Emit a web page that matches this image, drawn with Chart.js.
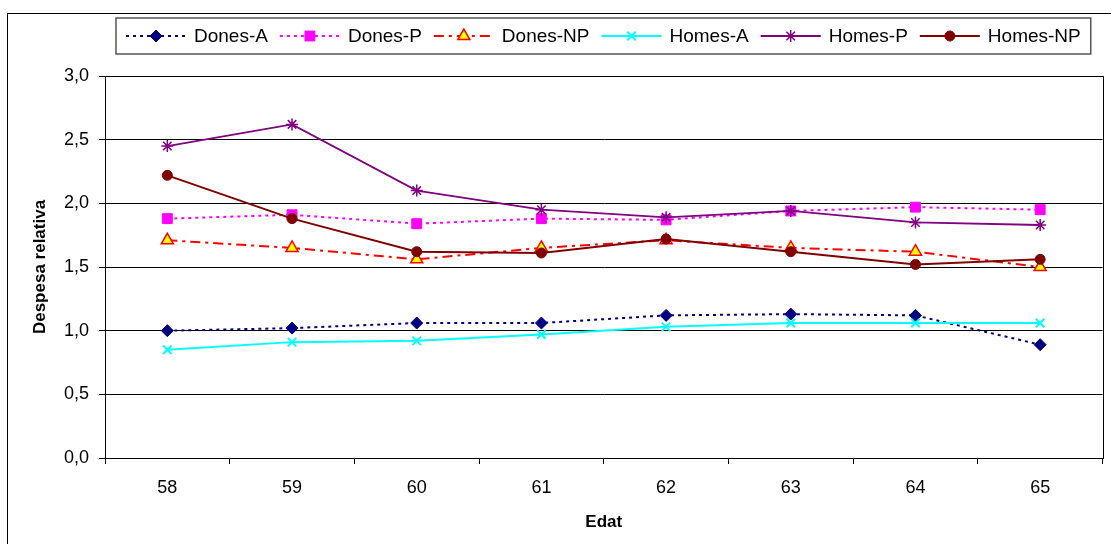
<!DOCTYPE html>
<html>
<head>
<meta charset="utf-8">
<script src="https://cdn.jsdelivr.net/npm/chart.js@4/dist/chart.umd.min.js"></script>
<style>
  body { margin: 0; background: #fff; overflow: hidden; }
  #frame { position: absolute; left: 7px; top: 13px; width: 1200px; height: 600px; border: 1px solid #000; }
  #wrap { position: absolute; left: 0; top: 0; width: 1111px; height: 544px; }
</style>
</head>
<body>
<div id="frame"></div>
<div id="wrap"><canvas id="myChart" width="1111" height="544"></canvas></div>
<script>
const ages = ["58", "59", "60", "61", "62", "63", "64", "65"];
const donesA = [1.00, 1.02, 1.06, 1.06, 1.12, 1.13, 1.12, 0.89];
const donesP = [1.88, 1.91, 1.84, 1.88, 1.87, 1.94, 1.97, 1.95];
const donesNP = [1.71, 1.65, 1.56, 1.65, 1.71, 1.65, 1.62, 1.50];
const homesA = [0.85, 0.91, 0.92, 0.97, 1.03, 1.06, 1.06, 1.06];
const homesP = [2.45, 2.62, 2.10, 1.95, 1.89, 1.94, 1.85, 1.83];
const homesNP = [2.22, 1.88, 1.62, 1.61, 1.72, 1.62, 1.52, 1.56];
const yTicks = [0, 0.5, 1.0, 1.5, 2.0, 2.5, 3.0];

const font = "'Liberation Sans', Arial, sans-serif";

function series(label, data, color, fill, style, radius, dash, width, pbw) {
  return {
    label: label,
    data: data,
    borderColor: color,
    backgroundColor: fill,
    pointBorderColor: color,
    pointBackgroundColor: fill,
    pointStyle: style,
    pointRadius: radius,
    pointBorderWidth: pbw,
    borderWidth: width,
    borderDash: dash,
    tension: 0,
    fill: false,
  };
}

let datasets = [
  series("Dones-A", donesA, "#000080", "#000080", "rectRot", 6, [3, 4], 2, 1),
  series("Dones-P", donesP, "#FF00FF", "#FF00FF", "rect", 7, [3, 4], 2, 1),
  series("Dones-NP", donesNP, "#FF0000", "#FFFF00", "triangle", 7, [10, 5, 3, 5], 2, 1.5),
  series("Homes-A", homesA, "#00FFFF", "#00FFFF", "crossRot", 6, [], 2, 2),
  series("Homes-P", homesP, "#800080", "#800080", "star", 6, [], 1.8, 1.5),
  series("Homes-NP", homesNP, "#800000", "#800000", "circle", 5, [], 2, 1),
];
// later series drawn on top, like the original
datasets.forEach((d, i) => { d.order = datasets.length - i; });

// legend box with line sample + marker, and the plot area frame
const decorations = {
  id: "decorations",
  afterDraw(chart) {
    const c = chart.ctx;
    const area = chart.chartArea;
    c.save();
    c.strokeStyle = "#000";
    c.lineWidth = 1;
    c.strokeRect(Math.round(area.left) + 0.5, Math.round(area.top) + 0.5,
      Math.round(area.right - area.left), Math.round(area.bottom - area.top));

    c.font = "19px " + font;
    const sample = 60, gap = 8, after = 12;
    let total = 0;
    datasets.forEach((d) => { total += sample + gap + c.measureText(d.label).width + after; });
    total -= after;
    let x = Math.round((area.left + area.right) / 2 - total / 2);
    const y = 36;
    c.strokeStyle = "#555";
    c.lineWidth = 1.5;
    c.strokeRect(x - 10, 18, total + 20, 36);

    datasets.forEach((d) => {
      c.save();
      c.strokeStyle = d.borderColor;
      c.lineWidth = d.borderWidth;
      c.setLineDash(d.borderDash);
      c.beginPath();
      c.moveTo(x, y);
      c.lineTo(x + sample, y);
      c.stroke();
      c.restore();
      c.save();
      c.strokeStyle = d.pointBorderColor;
      c.fillStyle = d.pointBackgroundColor;
      c.lineWidth = d.pointBorderWidth;
      Chart.helpers.drawPoint(c, { pointStyle: d.pointStyle, radius: d.pointRadius, rotation: 0, borderWidth: d.pointBorderWidth }, x + sample / 2, y);
      c.restore();
      c.fillStyle = "#000";
      c.textBaseline = "middle";
      c.textAlign = "left";
      c.fillText(d.label, x + sample + gap, y + 1);
      x += sample + gap + c.measureText(d.label).width + after;
    });
    c.restore();
  },
};

const ctx = document.getElementById("myChart").getContext("2d");
const myChart = new Chart(ctx, {
  type: "line",
  data: { labels: ages, datasets: datasets },
  options: {
    responsive: false,
    animation: false,
    layout: { padding: { top: 76, right: 2, bottom: 0, left: 0 } },
    plugins: { legend: { display: false }, tooltip: { enabled: false } },
    scales: {
      x: {
        offset: true,
        grid: { offset: true, drawOnChartArea: false, drawTicks: true, tickLength: 6, color: "#000" },
        border: { display: true, color: "#000", width: 1 },
        ticks: { color: "#000", font: { family: font, size: 18 }, padding: 13 },
        title: { display: true, text: "Edat", color: "#000", font: { family: font, size: 17, weight: "bold" }, padding: { top: 0, bottom: 11 } },
        afterFit(scale) { scale.height = 86; },
      },
      y: {
        min: 0,
        max: 3,
        afterBuildTicks(scale) { scale.ticks = yTicks.map((v) => ({ value: v })); },
        grid: { color: "#000", lineWidth: 1, drawTicks: true, tickLength: 6 },
        border: { display: true, color: "#000", width: 1 },
        ticks: {
          color: "#000",
          font: { family: font, size: 18 },
          padding: 10,
          callback: (v) => Number(v).toFixed(1).replace(".", ","),
        },
        title: { display: true, text: "Despesa relativa", color: "#000", font: { family: font, size: 17, weight: "bold" }, padding: { top: 30, bottom: 0 } },
        afterFit(scale) { scale.width = 105; },
      },
    },
  },
  plugins: [decorations],
});
</script>
</body>
</html>
